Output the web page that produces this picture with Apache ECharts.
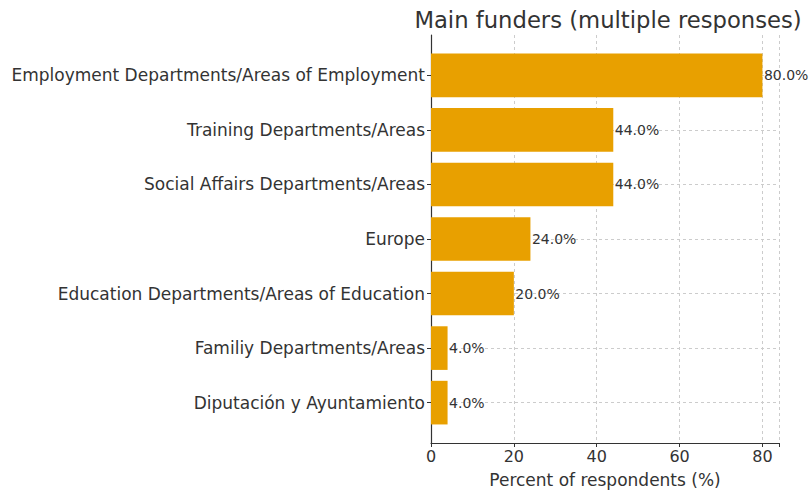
<!DOCTYPE html>
<html>
<head>
<meta charset="utf-8">
<script src="https://cdn.jsdelivr.net/npm/echarts@6/dist/echarts.min.js"></script>
<style>
  html, body { margin: 0; padding: 0; background: #fff; }
  #chart { width: 811px; height: 493px; }
</style>
</head>
<body>
<div id="chart"></div>
<script>
// Funding sources, top to bottom
const categories = [
  'Employment Departments/Areas of Employment',
  'Training Departments/Areas',
  'Social Affairs Departments/Areas',
  'Europe',
  'Education Departments/Areas of Education',
  'Familiy Departments/Areas',
  'Diputación y Ayuntamiento'
];
// Share of respondents naming each funder (%)
const percents = [80, 44, 44, 24, 20, 4, 4];
// Ticks on the percent axis
const xTicks = [0, 20, 40, 60, 80];

const FONT = 'DejaVu Sans';
const TEXT = '#333333';
const BAR = '#E8A000';

const rows = categories.map((_, i) => i);
const barData = percents.map((v, i) => [v, i]);

const chart = echarts.init(document.getElementById('chart'), null, { renderer: 'svg' });

chart.setOption({
  animation: false,
  title: {
    text: 'Main funders (multiple responses)',
    left: 603,
    textAlign: 'center',
    top: 3,
    textStyle: { fontFamily: FONT, fontSize: 22.7, fontWeight: 'normal', color: TEXT }
  },
  grid: { left: 431, right: 32, top: 35, bottom: 50, outerBoundsMode: 'none', containLabel: false },
  xAxis: {
    type: 'value',
    min: 0,
    max: 84,
    interval: 20,
    name: 'Percent of respondents (%)',
    nameLocation: 'middle',
    nameGap: 28,
    nameTextStyle: { fontFamily: FONT, fontSize: 17, color: TEXT },
    axisLine: { show: true, onZero: false, lineStyle: { color: '#333', width: 1.2 } },
    axisTick: { show: true, length: 4, lineStyle: { color: '#333' } },
    axisLabel: {
      fontFamily: FONT, fontSize: 16, color: TEXT, margin: 5,
      customValues: xTicks
    },
    splitLine: { show: true, lineStyle: { color: '#cccccc', type: [3, 3], width: 1 } }
  },
  yAxis: {
    type: 'value',
    inverse: true,
    min: -0.74,
    max: 6.74,
    axisLine: { show: true, onZero: false, lineStyle: { color: '#333', width: 1.2 } },
    axisTick: { show: true, length: 4, inside: false, customValues: rows, lineStyle: { color: '#333' } },
    axisLabel: {
      fontFamily: FONT, fontSize: 17, color: TEXT, margin: 6,
      customValues: rows,
      formatter: v => categories[Math.round(v)] || ''
    },
    splitLine: { show: true, lineStyle: { color: '#cccccc', type: [3, 3], width: 1 } }
  },
  series: [{
    type: 'custom',
    data: barData,
    encode: { x: 0, y: 1 },
    z: 3,
    renderItem: function (params, api) {
      const v = api.value(0);
      const idx = api.value(1);
      const start = api.coord([0, idx]);
      const end = api.coord([v, idx]);
      const h = Math.abs(api.size([0, 0.8])[1]);
      return {
        type: 'group',
        children: [
          {
            type: 'rect',
            shape: { x: start[0], y: start[1] - h / 2, width: end[0] - start[0], height: h },
            style: { fill: BAR }
          },
          {
            type: 'text',
            x: end[0] + 1.5,
            y: end[1],
            style: {
              text: v.toFixed(1) + '%',
              fill: TEXT,
              font: '14px "DejaVu Sans"',
              textAlign: 'left',
              textVerticalAlign: 'middle'
            }
          }
        ]
      };
    }
  }]
});
</script>
</body>
</html>
